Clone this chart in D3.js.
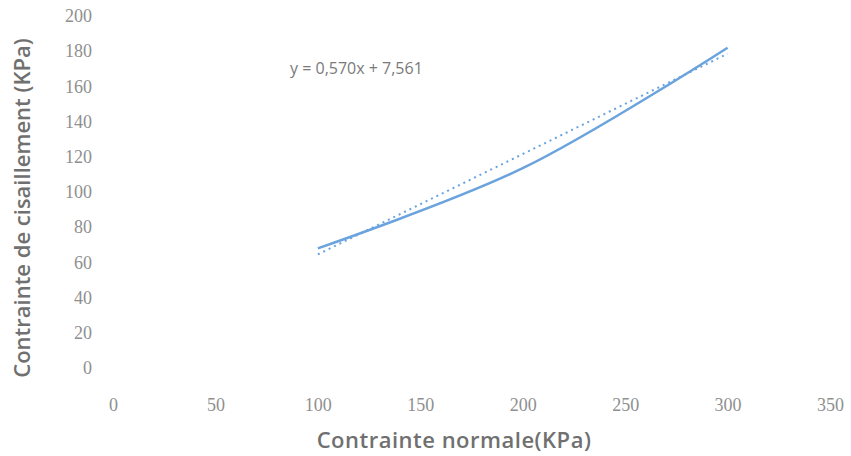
<!DOCTYPE html>
<html>
<head>
<meta charset="utf-8">
<script src="https://cdn.jsdelivr.net/npm/d3@7"></script>
<style>
  body { margin: 0; background: #fff; }
  .tick text { font-family: "Liberation Serif", serif; fill: #8f8f8f; }
  .title { font-family: "Open Sans", sans-serif; fill: #707070; }
</style>
</head>
<body>
<div id="chart"></div>
<script>
var normalStress = [100, 200, 300];
var shearStress = [68, 113.5, 182];
var xTicks = [0, 50, 100, 150, 200, 250, 300, 350];
var yTicks = [0, 20, 40, 60, 80, 100, 120, 140, 160, 180, 200];
var slope = 0.570;
var intercept = 7.561;

var width = 851, height = 456;
var plotLeft = 113, plotRight = 830, plotTop = 16, plotBottom = 368;

var svg = d3.select('#chart').append('svg')
    .attr('width', width)
    .attr('height', height);

var x = d3.scaleLinear().domain([0, 350]).range([plotLeft, plotRight]);
var y = d3.scaleLinear().domain([0, 200]).range([plotBottom, plotTop]);

// axes, no lines, only labels
var xAxis = svg.append('g')
    .attr('transform', 'translate(0,' + (plotBottom + 26) + ')')
    .call(d3.axisBottom(x).tickValues(xTicks).tickSize(0).tickPadding(4));
xAxis.select('.domain').remove();
xAxis.selectAll('text').attr('font-size', 18);

var yAxis = svg.append('g')
    .attr('transform', 'translate(' + (plotLeft - 21) + ',0)')
    .call(d3.axisLeft(y).tickValues(yTicks).tickSize(0).tickPadding(0));
yAxis.select('.domain').remove();
yAxis.selectAll('text').attr('font-size', 18);

// data series, smoothed
var pts = normalStress.map(function(d, i) { return [d, shearStress[i]]; });
var line = d3.line()
    .x(function(d) { return x(d[0]); })
    .y(function(d) { return y(d[1]); })
    .curve(d3.curveCatmullRom.alpha(0.5));

svg.append('path')
    .datum(pts)
    .attr('d', line)
    .attr('fill', 'none')
    .attr('stroke', '#6aa3dd')
    .attr('stroke-width', 2.5);

// linear trend line
var xr = d3.extent(normalStress);
var trend = xr.map(function(v) { return [v, slope * v + intercept]; });
svg.append('path')
    .datum(trend)
    .attr('d', d3.line().x(function(d) { return x(d[0]); }).y(function(d) { return y(d[1]); }))
    .attr('fill', 'none')
    .attr('stroke', '#6aa3dd')
    .attr('stroke-width', 2)
    .attr('stroke-dasharray', '2,4');

svg.append('text')
    .attr('class', 'title')
    .attr('x', 290)
    .attr('y', 74)
    .attr('font-size', 16)
    .style('fill', '#7a7a7a')
    .text('y = 0,570x + 7,561');

// axis titles
svg.append('text')
    .attr('class', 'title')
    .attr('x', 454)
    .attr('y', 448)
    .attr('text-anchor', 'middle')
    .attr('font-size', 22)
    .attr('font-weight', 600)
    .attr('letter-spacing', 0.5)
    .text('Contrainte normale(KPa)');

svg.append('text')
    .attr('class', 'title')
    .attr('transform', 'translate(30,208) rotate(-90)')
    .attr('text-anchor', 'middle')
    .attr('font-size', 22)
    .attr('font-weight', 600)
    .text('Contrainte de cisaillement (KPa)');
</script>
</body>
</html>
